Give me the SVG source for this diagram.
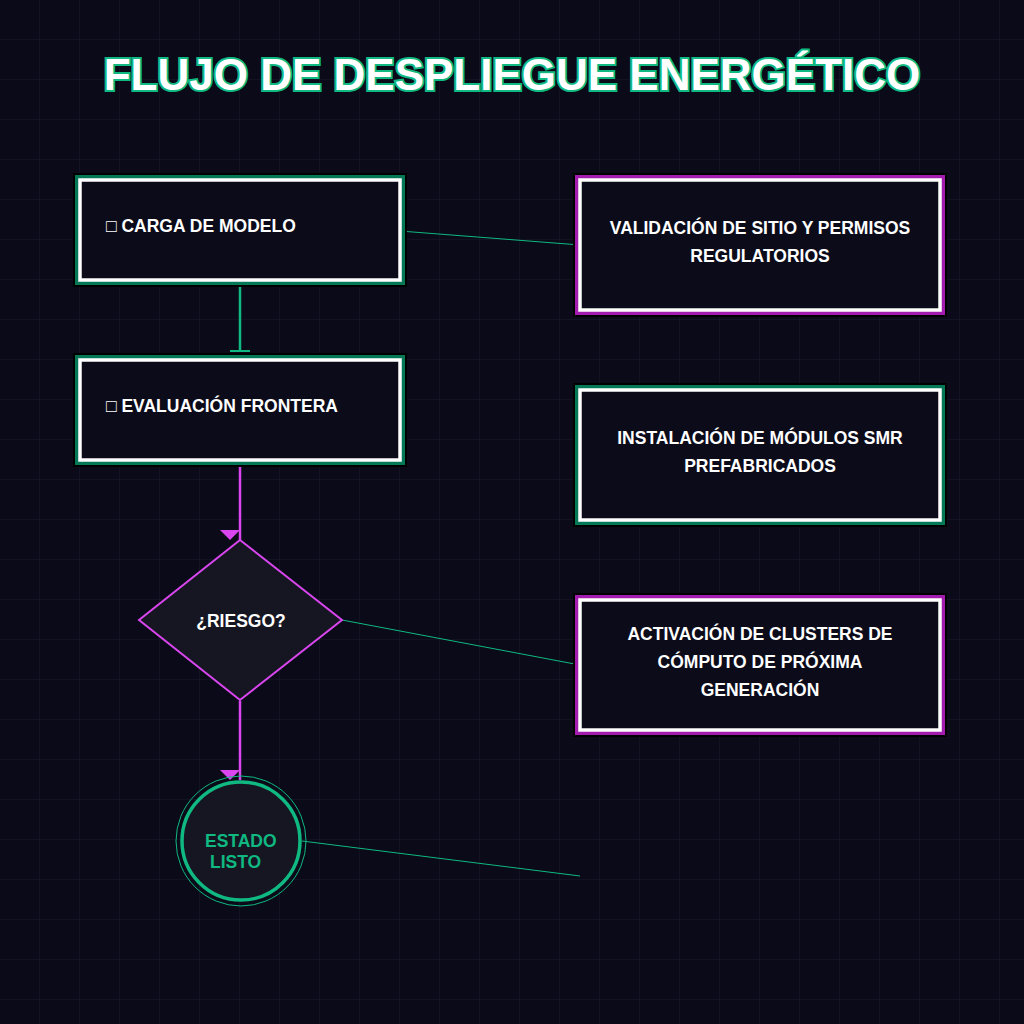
<svg xmlns="http://www.w3.org/2000/svg" width="1024" height="1024" viewBox="0 0 1024 1024">
<defs>
<pattern id="grid" width="40" height="40" patternUnits="userSpaceOnUse"><path d="M40 0V40H0" fill="none" stroke="#1a1a2e" stroke-width="1"/></pattern>
<marker id="arr" markerWidth="20" markerHeight="20" refX="10" refY="0" orient="0" markerUnits="userSpaceOnUse" viewBox="-10 -10 20 20"><path d="M-10 -10L10 -10L0 0z" fill="#d946ef"/></marker>
<marker id="tee" markerWidth="22" markerHeight="4" refX="11" refY="2" orient="0" markerUnits="userSpaceOnUse"><rect x="1" y="1" width="20" height="2" fill="#10b981"/></marker>
</defs>
<style>
.t{font-family:"Liberation Sans",Arial,sans-serif;font-weight:bold;fill:#fff;font-size:17.5px}
.o{fill:#0b0b1a;stroke:#000;stroke-width:3}
.g{fill:none;stroke:#047857;stroke-width:5}
.p{fill:none;stroke:#a21caf;stroke-width:5}
.in{fill:none;stroke:#fff;stroke-width:3.5}
.c{fill:none;stroke:#10b981;stroke-width:1}
</style>
<rect width="1024" height="1024" fill="#0a0a18"/>
<rect width="1024" height="1024" fill="url(#grid)"/>
<text x="512" y="90" text-anchor="middle" font-family="Liberation Sans,Arial,sans-serif" font-weight="bold" font-size="44" fill="#fff" stroke="#10b981" stroke-width="4" paint-order="stroke">FLUJO DE DESPLIEGUE ENERGÉTICO</text>
<g id="connectors">
<line x1="240" y1="282" x2="240" y2="351" stroke="#10b981" stroke-width="2.5" marker-end="url(#tee)"/>
<line x1="240" y1="462" x2="240" y2="540" stroke="#d946ef" stroke-width="2.5" marker-end="url(#arr)"/>
<line x1="240" y1="701" x2="240" y2="780" stroke="#d946ef" stroke-width="2.5" marker-end="url(#arr)"/>
<line class="c" x1="400" y1="231" x2="580" y2="245"/>
<line class="c" x1="342" y1="620" x2="580" y2="665"/>
<line class="c" x1="302" y1="841" x2="580" y2="876"/>
</g>
<g id="n1"><rect x="74.5" y="174.5" width="331" height="111" class="o"/><rect x="77.5" y="177.5" width="325" height="105" class="g"/><rect x="80" y="180" width="320" height="100" class="in"/><text class="t" x="106" y="232">□ CARGA DE MODELO</text></g>
<g id="n2"><rect x="74.5" y="354.5" width="331" height="111" class="o"/><rect x="77.5" y="357.5" width="325" height="105" class="g"/><rect x="80" y="360" width="320" height="100" class="in"/><text class="t" x="106" y="412">□ EVALUACIÓN FRONTERA</text></g>
<g id="n3"><rect x="574.5" y="174.5" width="371" height="141" class="o"/><rect x="577.5" y="177.5" width="365" height="135" class="p"/><rect x="580" y="180" width="360" height="130" class="in"/><text class="t" text-anchor="middle" x="760" y="234">VALIDACIÓN DE SITIO Y PERMISOS</text><text class="t" text-anchor="middle" x="760" y="262">REGULATORIOS</text></g>
<g id="n4"><rect x="574.5" y="384.5" width="371" height="141" class="o"/><rect x="577.5" y="387.5" width="365" height="135" class="g"/><rect x="580" y="390" width="360" height="130" class="in"/><text class="t" text-anchor="middle" x="760" y="444">INSTALACIÓN DE MÓDULOS SMR</text><text class="t" text-anchor="middle" x="760" y="472">PREFABRICADOS</text></g>
<g id="n5"><rect x="574.5" y="594.5" width="371" height="141" class="o"/><rect x="577.5" y="597.5" width="365" height="135" class="p"/><rect x="580" y="600" width="360" height="130" class="in"/><text class="t" text-anchor="middle" x="760" y="640">ACTIVACIÓN DE CLUSTERS DE</text><text class="t" text-anchor="middle" x="760" y="668">CÓMPUTO DE PRÓXIMA</text><text class="t" text-anchor="middle" x="760" y="696">GENERACIÓN</text></g>
<g id="n6"><polygon points="240,540 342,620 240,700 139,620" fill="#161622" stroke="#d946ef" stroke-width="2"/><text class="t" text-anchor="middle" x="241" y="627">¿RIESGO?</text></g>
<g id="n7"><circle cx="241" cy="841" r="65" fill="none" stroke="#10b981" stroke-width="1"/><circle cx="241" cy="841" r="59" fill="#161622" stroke="#10b981" stroke-width="3.5"/><text class="t" style="fill:#10b981" x="205" y="847">ESTADO</text><text class="t" style="fill:#10b981" x="210" y="868">LISTO</text></g>
</svg>
